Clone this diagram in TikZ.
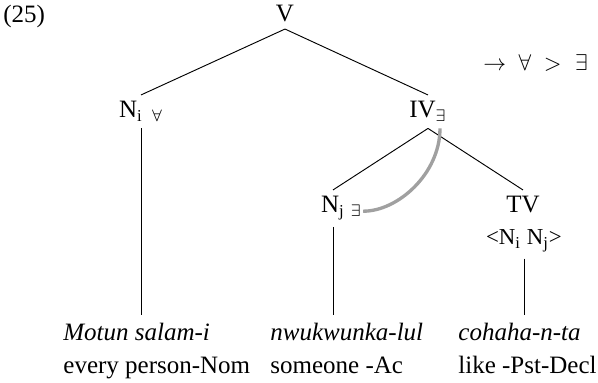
\documentclass[tikz,border=0pt,12pt]{standalone}
\usepackage{fontspec}
\setmainfont{Liberation Serif}
\usetikzlibrary{positioning}
\definecolor{scopeline}{HTML}{A0A0A0}

\begin{document}
\begin{tikzpicture}[x=0.48pt,y=-0.48pt,
  cat/.style={inner xsep=1pt,inner ysep=3pt,anchor=base},
  branch/.style={line width=0.45pt}]
  \useasboundingbox (0,0) rectangle (598,383);
  \node[inner sep=0pt,anchor=base west] (exno) at (3,23) {(25)};
  \node[cat] (V) at (285,22) {V};
  \node[cat] (Ni) at (141,118) {N\textsubscript{i\hspace{5pt}$\forall$}};
  \node[cat] (IV) at (428,118) {IV\textsubscript{$\exists$}};
  \node[inner sep=0pt,anchor=base west,font=\small] (order) at (483,71)
    {$\rightarrow$\hspace{6pt}$\forall$\hspace{6pt}$>$\hspace{6.5pt}$\exists$};
  \node[cat] (Nj) at (333,213) {N\textsubscript{j}};
  \node[inner sep=1pt,anchor=base west,font=\scriptsize] (Nje) at ([shift={(1,4)}]Nj.base east) {$\exists$};
  \node[cat] (TV) at (523,213) {TV};
  \node[cat,font=\small] (args) at (524,245) {<N\textsubscript{i} N\textsubscript{j}>};
  \coordinate (bot) at (0,315);
  % tree
  \draw[branch] (V.south) -- (Ni.north);
  \draw[branch] (V.south) -- (IV.north);
  \draw[branch] (IV.south) -- (Nj.north);
  \draw[branch] (IV.south) -- (TV.north);
  \foreach \n in {Ni,Nj,args}
    \draw[branch] (\n.south) -- (\n.south |- bot);
  % scope link
  \draw[line width=1.6pt,scopeline] ([shift={(12,0)}]IV.south) .. controls +(0,45) and +(35,0) .. (Nje.east);
  % words and glosses
  \foreach \name/\x/\word/\gloss in {w1/63/Motun salam-i/every person-Nom, w2/270/nwukwunka-lul/someone -Ac, w3/458/cohaha-n-ta/like -Pst-Decl} {
    \node[inner sep=0pt,anchor=base west,font=\itshape] (\name) at (\x,341) {\word};
    \node[inner sep=0pt,anchor=base west] (\name g) at (\x,374) {\gloss};
  }
\end{tikzpicture}
\end{document}
